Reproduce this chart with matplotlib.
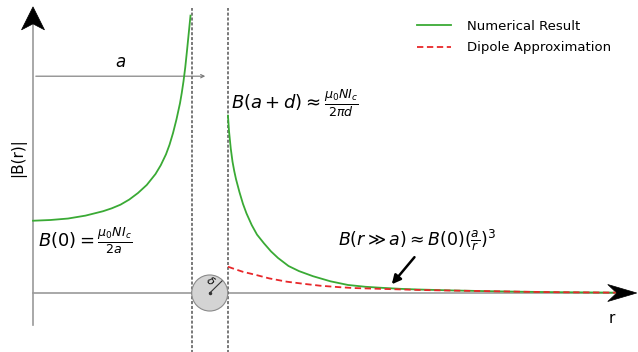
"""Field magnitude along the axis of a wire loop, numerical vs dipole approximation."""

import matplotlib

matplotlib.use("Agg")
import matplotlib.pyplot as plt
from matplotlib.patches import Ellipse, Polygon

# r in units of loop radius a, |B| in units of B(0)
inner_r = [0.00, 0.10, 0.20, 0.30, 0.40, 0.45, 0.50, 0.55, 0.60, 0.65, 0.70,
           0.73, 0.76, 0.78, 0.80, 0.82, 0.84, 0.85, 0.86, 0.87, 0.88, 0.89, 0.90]
inner_b = [0.99, 1.00, 1.02, 1.06, 1.12, 1.16, 1.21, 1.28, 1.37, 1.48, 1.63,
           1.75, 1.90, 2.03, 2.19, 2.38, 2.60, 2.74, 2.90, 3.09, 3.32, 3.56, 3.80]

outer_r = [1.114, 1.12, 1.13, 1.14, 1.15, 1.16, 1.18, 1.20, 1.22, 1.25, 1.28,
           1.32, 1.36, 1.40, 1.46, 1.52, 1.60, 1.70, 1.80, 1.90, 2.00, 2.10,
           2.20, 2.40, 2.60, 2.80, 3.00, 3.33]
outer_b = [2.43, 2.22, 1.98, 1.80, 1.67, 1.56, 1.38, 1.22, 1.09, 0.93, 0.80,
           0.68, 0.57, 0.48, 0.37, 0.30, 0.23, 0.16, 0.11, 0.085, 0.070, 0.057,
           0.048, 0.035, 0.025, 0.017, 0.011, 0.005]

dipole_r = [1.114, 1.15, 1.20, 1.27, 1.35, 1.45, 1.55, 1.64, 1.75, 1.83, 2.00,
            2.20, 2.40, 2.60, 2.80, 3.00, 3.33]
dipole_b = [0.36, 0.33, 0.29, 0.25, 0.20, 0.155, 0.125, 0.10, 0.08, 0.068, 0.056,
            0.042, 0.033, 0.025, 0.017, 0.011, 0.005]

LOOP_RADIUS = 1.0
WIRE_CENTER = 1.01
WIRE_HALF = 0.103

GREEN = "#3aaa35"
RED = "#e8272a"
AXIS_GREY = "#9a9a9a"

# pixels per data unit (figure is drawn 1:1 on a full-figure axes)
SX = 175.0
SY = 73.0


def arrow_head(ax, tip, direction, length, half, notch):
    x, y = tip
    if direction == "up":
        pts = [(x, y), (x - half / SX, y - length / SY), (x, y - (length - notch) / SY),
               (x + half / SX, y - length / SY)]
    else:
        pts = [(x, y), (x - length / SX, y + half / SY), (x - (length - notch) / SX, y),
               (x - length / SX, y - half / SY)]
    ax.add_patch(Polygon(pts, closed=True, facecolor="black", edgecolor="black",
                         lw=0.5, zorder=6))


fig = plt.figure(figsize=(6.38, 3.52), dpi=100)
ax = fig.add_axes([0, 0, 1, 1])
ax.set_xlim(-33 / SX, 605 / SX)
ax.set_ylim(-59 / SY, 293 / SY)
ax.axis("off")

# axes with arrow heads
y_top = 3.92
x_end = 3.45
ax.plot([0, 0], [-0.44, y_top - 0.2], color=AXIS_GREY, lw=1.2, zorder=2)
ax.plot([0, x_end - 0.1], [0, 0], color=AXIS_GREY, lw=1.2, zorder=2)
arrow_head(ax, (0, y_top), "up", 23, 11.5, 6)
arrow_head(ax, (x_end, 0), "right", 29, 8.5, 9)

# wire boundaries
for xv in (WIRE_CENTER - WIRE_HALF, WIRE_CENTER + WIRE_HALF):
    ax.plot([xv, xv], [-0.9, 3.9], color="#555555", lw=1.1, dashes=(2.0, 1.2), zorder=3)

# wire cross-section
ax.add_patch(Ellipse((WIRE_CENTER, 0), 2 * WIRE_HALF, 2 * WIRE_HALF * SX / SY,
                     facecolor="#d4d4d4", edgecolor="#8a8a8a", lw=0.8, zorder=4))
ax.plot([WIRE_CENTER, WIRE_CENTER + 0.07], [0, 0.165], color="#333333", lw=0.8, zorder=5)
ax.plot([WIRE_CENTER], [0], marker="o", ms=1.5, color="#333333", zorder=5)
ax.text(WIRE_CENTER + 0.005, 0.17, r"$\delta$", fontsize=8, rotation=-35,
        ha="center", va="center", zorder=5)

# loop radius marker
ax.annotate("", xy=(LOOP_RADIUS, 2.97), xytext=(0, 2.97),
            arrowprops=dict(arrowstyle="->", color="#777777", lw=0.8, mutation_scale=6))
ax.text(0.50, 3.16, r"$a$", fontsize=12, ha="center", va="center")

# curves
ax.plot(inner_r, inner_b, color=GREEN, lw=1.3, zorder=5, label="Numerical Result")
ax.plot(outer_r, outer_b, color=GREEN, lw=1.3, zorder=5)
ax.plot(dipole_r, dipole_b, color=RED, lw=1.3, dashes=(3.5, 2.0), zorder=6,
        label="Dipole Approximation")

# annotations
ax.text(0.03, 0.72, r"$B(0) = \frac{\mu_0 N I_c}{2a}$", fontsize=13, ha="left", va="center")
ax.text(1.13, 2.60, r"$B(a+d) \approx \frac{\mu_0 N I_c}{2\pi d}$", fontsize=13,
        ha="left", va="center")
ax.text(1.745, 0.72, r"$B(r \gg a) \approx B(0)(\frac{a}{r})^3$", fontsize=12.5,
        ha="left", va="center")
ax.annotate("", xy=(2.04, 0.09), xytext=(2.19, 0.52),
            arrowprops=dict(arrowstyle="-|>", color="black", lw=1.8, mutation_scale=13))

ax.text(3.31, -0.35, "r", fontsize=11, ha="center", va="center")
ax.text(-0.087, 1.85, "|B(r)|", fontsize=11, rotation=90, ha="center", va="center")

ax.legend(loc="upper left", bbox_to_anchor=(0.635, 0.978), frameon=False, fontsize=9.5,
          handlelength=2.6, handletextpad=1.2, labelspacing=0.65)

fig.savefig("out.png", dpi=100)
